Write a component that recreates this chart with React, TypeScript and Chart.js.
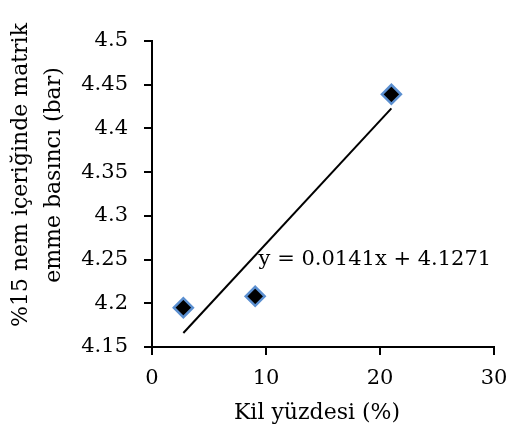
import React, { useEffect, useRef } from "react";
import { Chart, registerables } from "chart.js";

Chart.register(...registerables);

const clayPercent = [2.75, 9.05, 21.0];
const suctionBar = [4.195, 4.208, 4.439];
const trendX = [2.75, 21.0];
const trendY = [4.166, 4.423];
const equationText = "y = 0.0141x + 4.1271";
const equationAnchor = { x: 9.35, y: 4.2495 };
const xTitle = "Kil yüzdesi (%)";
const yTitleLines = ["%15 nem içeriğinde matrik", "emme basıncı (bar)"];

const FONT = "'DejaVu Serif', serif";

const labelsPlugin = {
  id: "customLabels",
  afterDraw(chart: any) {
    const { ctx, chartArea, scales } = chart;
    ctx.save();
    ctx.fillStyle = "#000";
    ctx.font = `21px ${FONT}`;
    ctx.textAlign = "left";
    ctx.textBaseline = "middle";
    ctx.fillText(
      equationText,
      scales.x.getPixelForValue(equationAnchor.x),
      scales.y.getPixelForValue(equationAnchor.y)
    );
    ctx.font = `22px ${FONT}`;
    ctx.textAlign = "center";
    ctx.textBaseline = "middle";
    ctx.fillText(xTitle, (chartArea.left + chartArea.right) / 2 - 6, chartArea.bottom + 66);
    ctx.translate(0, chartArea.top + 134);
    ctx.rotate(-Math.PI / 2);
    ctx.fillText(yTitleLines[0], 0, 21);
    ctx.fillText(yTitleLines[1], 0, 54);
    ctx.restore();
  },
};

export default function App() {
  const ref = useRef<HTMLCanvasElement>(null);
  useEffect(() => {
    document.body.style.margin = "0";
    const canvas = ref.current!;
    const chart = new Chart(canvas, {
      type: "scatter",
      data: {
        datasets: [
          {
            type: "line",
            data: trendX.map((x, i) => ({ x, y: trendY[i] })),
            borderColor: "#000",
            borderWidth: 2,
            pointRadius: 0,
            fill: false,
          } as any,
          {
            data: clayPercent.map((x, i) => ({ x, y: suctionBar[i] })),
            pointStyle: "rectRot",
            pointRadius: 9.5,
            pointBackgroundColor: "#000",
            pointBorderColor: "#5b8fd0",
            pointBorderWidth: 2.5,
          },
        ],
      },
      options: {
        responsive: false,
        animation: false,
        layout: { padding: { top: 41, right: 17, left: 0, bottom: 0 } },
        plugins: { legend: { display: false }, tooltip: { enabled: false } },
        scales: {
          x: {
            type: "linear",
            min: 0,
            max: 30,
            ticks: { stepSize: 10, color: "#000", font: { family: FONT, size: 21 }, padding: 11 },
            grid: { drawOnChartArea: false, tickLength: 8, color: "#000", lineWidth: 2 },
            border: { color: "#000", width: 2 },
            afterFit(scale: any) {
              scale.height = 96;
              scale.paddingRight = 0;
              scale.paddingLeft = 0;
            },
          },
          y: {
            min: 4.15,
            max: 4.5,
            ticks: {
              stepSize: 0.05,
              color: "#000",
              font: { family: FONT, size: 21 },
              padding: 16,
              callback: (v: any) => String(Math.round(Number(v) * 100) / 100),
            },
            grid: { drawOnChartArea: false, tickLength: 8, color: "#000", lineWidth: 2 },
            border: { color: "#000", width: 2 },
            afterFit(scale: any) {
              scale.width = 152;
              scale.paddingTop = 0;
              scale.paddingBottom = 0;
            },
          },
        },
      } as any,
      plugins: [labelsPlugin],
    });
    return () => chart.destroy();
  }, []);
  return <canvas ref={ref} width={511} height={443} style={{ display: "block" }} />;
}
